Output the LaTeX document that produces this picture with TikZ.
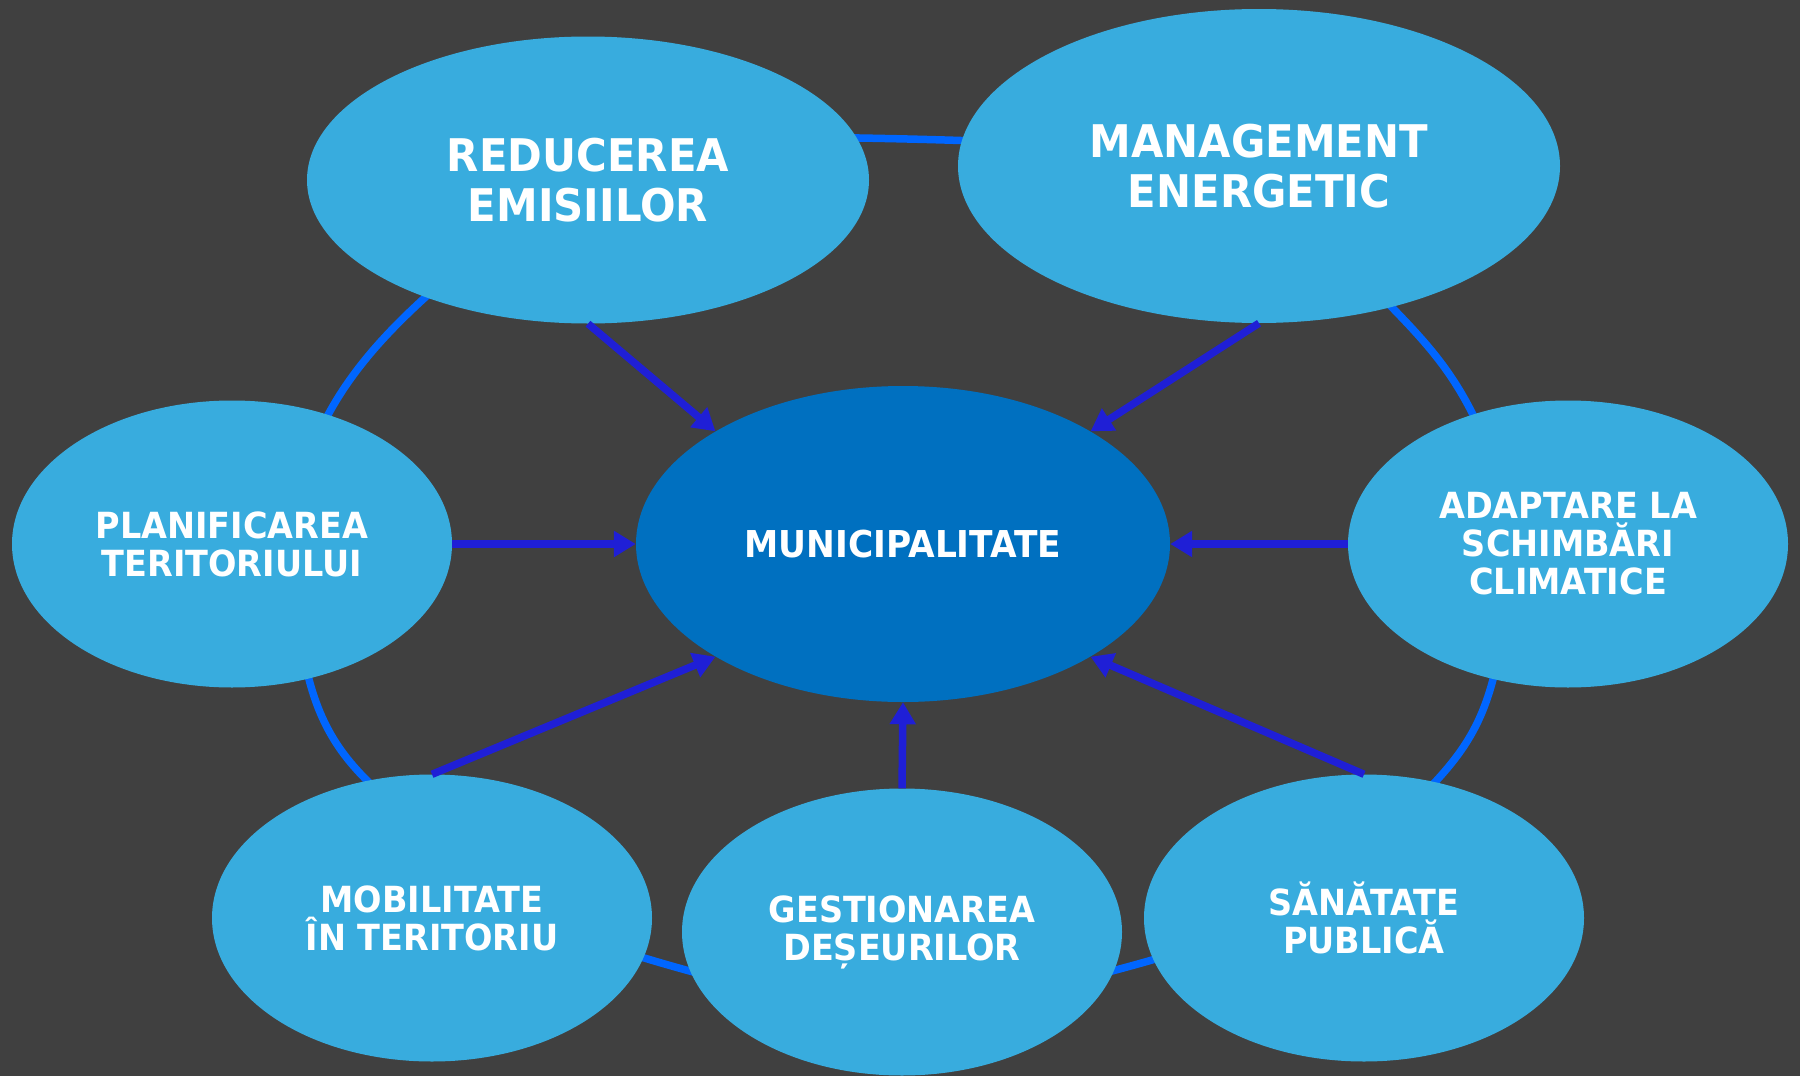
\documentclass[tikz,border=0pt]{standalone}
\usepackage{fontspec}
\newfontfamily\lab{DejaVu Sans}[FakeStretch=0.93]
\usetikzlibrary{shapes.geometric,arrows.meta}
\definecolor{bgc}{HTML}{404040}
\definecolor{bubble}{HTML}{38ACDE}
\definecolor{centerc}{HTML}{0070C0}
\definecolor{ringc}{HTML}{0066FF}
\definecolor{arrowc}{HTML}{1F1FD6}
\tikzset{
  bub/.style={ellipse, fill=bubble, inner sep=0pt, text=white, align=center,
    minimum width=440pt, minimum height=287pt,
    font=\lab\bfseries\fontsize{36}{38}\selectfont},
  bigbub/.style={bub, font=\lab\bfseries\fontsize{45}{50}\selectfont},
  mainbub/.style={bub, fill=centerc, minimum width=534pt, minimum height=316pt,
    font=\lab\bfseries\fontsize{37}{40}\selectfont},
  ring/.style={draw=ringc, line width=7.5pt},
  arr/.style={draw=arrowc, line width=7.5pt, -{Triangle[length=22pt,width=25pt]}}
}
\begin{document}
\begin{tikzpicture}[x=1pt,y=-1pt]
\fill[bgc] (0,0) rectangle (1800,1076);
\useasboundingbox (0,0) rectangle (1800,1076);
% ring segments
\draw[ring] (830,137.5) .. controls (880,138.3) and (930,139.3) .. (990,141.5);
\draw[ring] (447,278) .. controls (394,324) and (347,371) .. (318,435);
\draw[ring] (305,662) .. controls (319,731) and (347,764) .. (388,800);
\draw[ring] (625,952) .. controls (650,960) and (685,970) .. (712,977);
\draw[ring] (1093,976) .. controls (1120,969) and (1150,961) .. (1175,953);
\draw[ring] (1375,290) .. controls (1424,340) and (1454,370) .. (1482,434);
\draw[ring] (1497,662) .. controls (1483,731) and (1456,761) .. (1418,800);
% nodes
\node[bigbub, minimum width=562pt] (re) at (588,180) {REDUCEREA\\EMISIILOR};
\node[bigbub, minimum width=602pt, minimum height=314pt] (me) at (1259,166) {MANAGEMENT\\ENERGETIC};
\node[mainbub] (mu) at (903,544) {MUNICIPALITATE};
\node[bub] (pl) at (232,544) {PLANIFICAREA\\TERITORIULUI};
\node[bub] (ad) at (1568,544) {ADAPTARE LA\\SCHIMBĂRI\\CLIMATICE};
\node[bub] (mo) at (432,918) {MOBILITATE\\ÎN TERITORIU};
\node[bub] (ge) at (902,932) {GESTIONAREA\\DEȘEURILOR};
\node[bub] (sa) at (1364,918) {SĂNĂTATE\\PUBLICĂ};
% arrows
\draw[arr] (re.south) -- (mu.149);
\draw[arr] (me.south) -- (mu.31);
\draw[arr] (pl.east) -- (mu.west);
\draw[arr] (ad.west) -- (mu.east);
\draw[arr] (mo.north) -- (mu.211);
\draw[arr] (ge.north) -- (mu.south);
\draw[arr] (sa.north) -- (mu.-31);
\end{tikzpicture}
\end{document}
